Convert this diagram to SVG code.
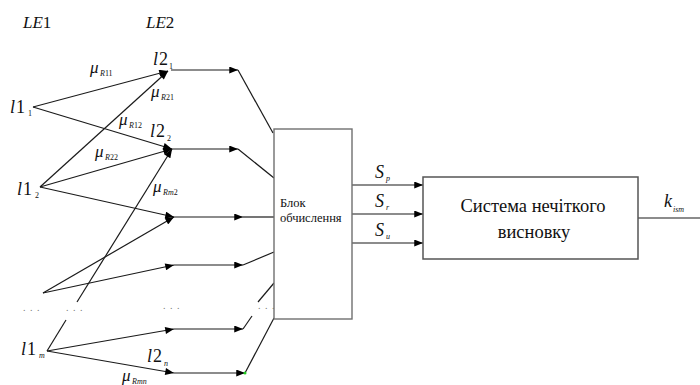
<svg xmlns="http://www.w3.org/2000/svg" width="700" height="385" viewBox="0 0 700 385" font-family="'Liberation Serif', 'DejaVu Serif', serif">
<style>
text{font-family:'Liberation Serif','DejaVu Serif',serif;fill:#111}
.it{font-style:italic}
.sub{font-size:8px}
.big{font-size:17px}
.nd{font-size:18px;letter-spacing:1px}
.c{stroke:#1a1a1a;stroke-width:1.2;fill:none}
.a{marker-end:url(#ah)}
.box{fill:#fff;stroke:#707070;stroke-width:1.4}
.dots{font-size:10px;fill:#777;letter-spacing:1px}
</style>
<defs>
<marker id="ah" viewBox="0 0 10 8" refX="10" refY="4" markerWidth="10" markerHeight="7" markerUnits="userSpaceOnUse" orient="auto">
<path d="M0,0 L10,4 L0,8 z" fill="#000"/>
</marker>
</defs>
<rect width="700" height="385" fill="#fff"/>
<g id="connectors">
<path class="c a" d="M33,107 L168,71"/>
<path class="c a" d="M33,107 L172,149"/>
<path class="c a" d="M40,187 L168,71"/>
<path class="c a" d="M40,187 L172,149"/>
<path class="c a" d="M40,187 L174,217"/>
<path class="c" d="M47,351 L66,320"/>
<path class="c a" d="M77,302 L172,149"/>
<path class="c a" d="M43,293 L174,217"/>
<path class="c a" d="M43,293 L174,265"/>
<path class="c a" d="M47,351 L174,329"/>
<path class="c a" d="M47,351 L174,373"/>
<path class="c a" d="M171,70 H238"/>
<path class="c" d="M238,70 L273,133"/>
<path class="c a" d="M172,149 H238"/>
<path class="c" d="M238,149 L274,178"/>
<path class="c a" d="M174,217 H243"/>
<path class="c" d="M243,217 H274"/>
<path class="c a" d="M174,265 H243"/>
<path class="c" d="M243,265 L274,252"/>
<path class="c a" d="M174,329 H243"/>
<path class="c" d="M243,329 L252,316"/>
<path class="c" d="M258,302 L274,283"/>
<path class="c a" d="M174,373 H245"/>
<path class="c" d="M245,373 L274,318"/>
<path class="c a" d="M352,185 H423"/>
<path class="c a" d="M352,214 H423"/>
<path class="c a" d="M352,243 H423"/>
<path class="c" d="M638,218 H700"/>
<circle cx="245" cy="373" r="1.5" fill="#2c2"/>
</g>
<g id="labels-levels">
<text x="23" y="28" class="big"><tspan class="it">LE</tspan>1</text>
<text x="146" y="28" class="big"><tspan class="it">LE</tspan>2</text>
</g>
<g id="l1_1"><text x="10" y="113" class="nd"><tspan class="it">l</tspan>1</text><text x="28" y="116" class="sub">1</text></g>
<g id="l1_2"><text x="17" y="195" class="nd"><tspan class="it">l</tspan>1</text><text x="35" y="198" class="sub">2</text></g>
<g id="l1_m"><text x="21" y="355" class="nd"><tspan class="it">l</tspan>1</text><text x="39" y="358" class="sub it">m</text></g>
<g id="l2_1"><text x="153" y="65" class="nd"><tspan class="it">l</tspan>2</text><text x="169" y="69" class="sub">1</text></g>
<g id="l2_2"><text x="150" y="137" class="nd"><tspan class="it">l</tspan>2</text><text x="167" y="141" class="sub">2</text></g>
<g id="l2_n"><text x="147" y="362" class="nd"><tspan class="it">l</tspan>2</text><text x="164" y="366" class="sub it">n</text></g>
<g id="weights">
<text x="90" y="73" class="big it">μ</text><text x="100" y="76" class="sub"><tspan class="it">R</tspan>11</text>
<text x="151" y="97" class="big it">μ</text><text x="161" y="100" class="sub"><tspan class="it">R</tspan>21</text>
<text x="119" y="125" class="big it">μ</text><text x="129" y="128" class="sub"><tspan class="it">R</tspan>12</text>
<text x="95" y="157" class="big it">μ</text><text x="105" y="160" class="sub"><tspan class="it">R</tspan>22</text>
<text x="153" y="192" class="big it">μ</text><text x="163" y="195" class="sub"><tspan class="it">Rm</tspan>2</text>
<text x="122" y="381" class="big it">μ</text><text x="132" y="384" class="sub it">Rmn</text>
</g>
<g id="dots">
<text x="23" y="311" class="dots">. . .</text>
<text x="66" y="311" class="dots">. . .</text>
<text x="163" y="309" class="dots">. . .</text>
<text x="258" y="309" class="dots">. . .</text>
</g>
<g id="block">
<rect class="box" x="274" y="129" width="78" height="190"/>
<text x="280" y="207" font-size="12.5">Блок</text>
<text x="280" y="222" font-size="12.5">обчислення</text>
</g>
<g id="outputs">
<text x="375" y="178" font-size="18" class="it">S</text><text x="386" y="181" class="sub it">p</text>
<text x="375" y="207" font-size="18" class="it">S</text><text x="386" y="210" class="sub it">r</text>
<text x="375" y="236" font-size="18" class="it">S</text><text x="386" y="239" class="sub it">u</text>
</g>
<g id="fuzzy">
<rect x="423" y="177" width="215" height="82" fill="#fff" stroke="#555" stroke-width="1.5"/>
<text x="533" y="212" font-size="18.5" text-anchor="middle">Система нечіткого</text>
<text x="534" y="238" font-size="18.5" text-anchor="middle">висновку</text>
</g>
<g id="k_ism">
<text x="664" y="207" font-size="18" class="it">k</text><text x="673" y="212" class="sub it">ism</text>
</g>
</svg>
